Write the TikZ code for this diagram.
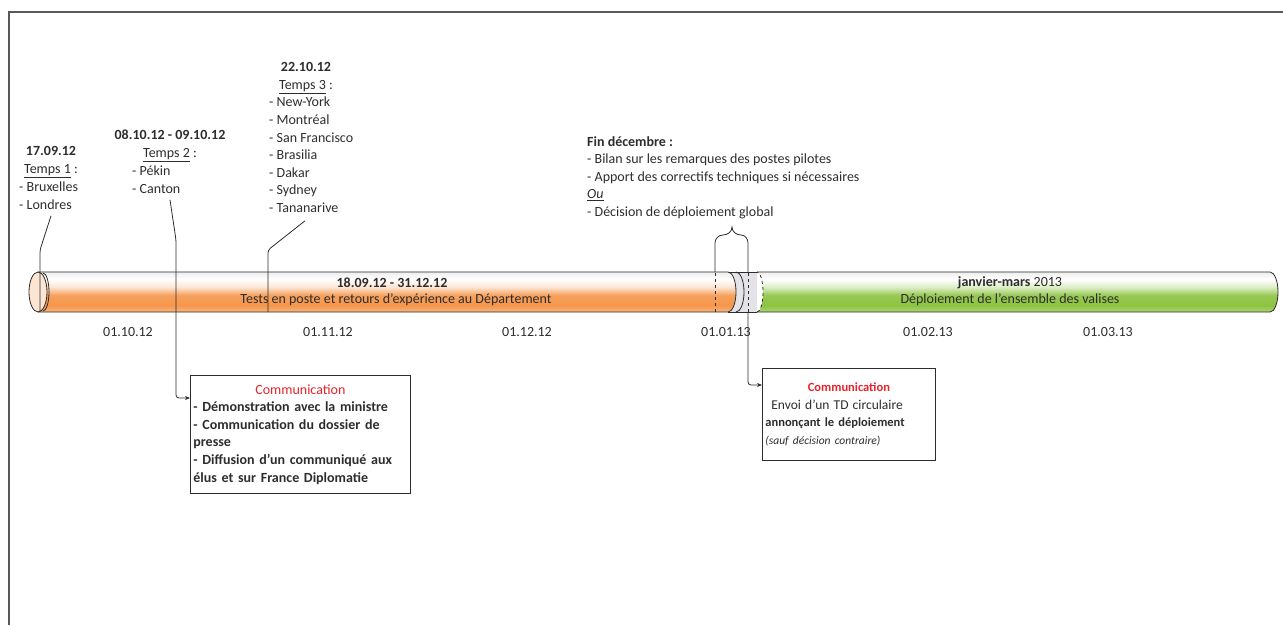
\documentclass[tikz,border=0pt]{standalone}
\usepackage{fontspec}
\setmainfont{Carlito}
\usetikzlibrary{arrows.meta}
\definecolor{tubeorange}{RGB}{245,150,75}
\definecolor{tubegreen}{RGB}{140,195,65}
\definecolor{commred}{RGB}{230,35,45}
\definecolor{inkgray}{RGB}{45,45,45}
\pgfdeclareverticalshading{orangetube}{100bp}{color(0bp)=(tubeorange!70); color(25bp)=(tubeorange!70); color(33bp)=(tubeorange); color(46bp)=(tubeorange!90); color(56bp)=(tubeorange!25); color(66bp)=(white); color(75bp)=(white!93!black); color(100bp)=(white!93!black)}
\pgfdeclareverticalshading{greentube}{100bp}{color(0bp)=(tubegreen!70); color(25bp)=(tubegreen!70); color(33bp)=(tubegreen); color(46bp)=(tubegreen!90); color(56bp)=(tubegreen!30); color(66bp)=(white); color(75bp)=(white!93!black); color(100bp)=(white!93!black)}

\begin{document}
\begin{tikzpicture}[x=1pt,y=1pt,
    every node/.style={font=\fontsize{14}{17.6}\selectfont, text=inkgray, inner sep=0pt},
    head/.style={align=center},
    lbl/.style={align=left, anchor=north west},
    commbox/.style={draw=inkgray, thick, anchor=north west, align=left, inner xsep=3pt},
    link/.style={thick, inkgray, rounded corners=3pt},
    tip/.style={-{Stealth[length=5pt,width=4pt]}},
    tube/.style={thick, inkgray}]
\useasboundingbox (0,0) rectangle (1283,625);
% frame
\draw[line width=1.5pt, black!65] (9,0) -- (9,613) -- (1283,613);

% the two tubes
\fill[blue!8!gray!20] (728,353) rectangle (757,313);
\draw[tube] (728,353) -- (757,353) (728,313) -- (757,313);
\shade[shading=orangetube] (38,353) -- (728,353) arc[start angle=90, end angle=-90, x radius=8, y radius=20] -- (38,313) -- cycle;
\draw[tube] (38,353) -- (728,353) arc[start angle=90, end angle=-90, x radius=8, y radius=20] -- (38,313);
\draw[tube] (736,353) arc[start angle=90, end angle=-90, x radius=8, y radius=20];
\draw[tube, fill=tubeorange!25] (38,333) ellipse[x radius=9, y radius=20];
\draw[tube] (43,352) arc[start angle=90, end angle=-90, x radius=6, y radius=19];
\shade[shading=greentube] (757,353) -- (1270,353) arc[start angle=90, end angle=-90, x radius=8, y radius=20] -- (757,313) arc[start angle=-90, end angle=90, x radius=6, y radius=20] -- cycle;
\draw[tube] (757,353) -- (1270,353) arc[start angle=90, end angle=-90, x radius=8, y radius=20] -- (757,313);
\draw[tube, dashed] (757,313) arc[start angle=-90, end angle=90, x radius=6, y radius=20];

% texts on the tubes
\node (tsdate) at (392,342) {\textbf{18.09.12 - 31.12.12}};
\node (tstext) at (396,325) {Tests en poste et retours d’expérience au Département};
\node (dpdate) at (1010,342) {\textbf{janvier-mars} 2013};
\node (dptext) at (1010,325) {Déploiement de l’ensemble des valises};

% month marks
\node (m1) at (128,293) {01.10.12};
\node (m2) at (328,293) {01.11.12};
\node (m3) at (527,293) {01.12.12};
\node (m4) at (726,293) {01.01.13};
\node (m5) at (928,293) {01.02.13};
\node (m6) at (1108,293) {01.03.13};

% the three waves
\node[head] (t1head) at (51,463) {\textbf{17.09.12}\\\underline{Temps 1} :};
\node[lbl] (t1list) at (19,443) {- Bruxelles\\- Londres};
\node[head] (t2head) at (170,479) {\textbf{08.10.12 - 09.10.12}\\\underline{Temps 2} :};
\node[lbl] (t2list) at (132,459) {- Pékin\\- Canton};
\node[head] (t3head) at (306,547) {\textbf{22.10.12}\\\underline{Temps 3} :};
\node[lbl] (t3list) at (269,528) {- New-York\\- Montréal\\- San Francisco\\- Brasilia\\- Dakar\\- Sydney\\- Tananarive};
\node[lbl] (findec) at (587,489) {\textbf{Fin décembre :}\\- Bilan sur les remarques des postes pilotes\\- Apport des correctifs techniques si nécessaires\\\underline{\textit{Ou}}\\- Décision de déploiement global};

% communication boxes
\node[commbox, text width=214pt, minimum height=118pt] (comm1) at (190,250)
  {\hfill\textcolor{commred}{Communication}\hfill\null\\
   \bfseries - Démonstration avec la ministre\\
   - Communication du dossier de\\presse\\
   - Diffusion d’un communiqué aux\\élus et sur France Diplomatie};
\node[commbox, text width=167pt, minimum height=92pt, font=\fontsize{12.5}{17.5}\selectfont] (comm2) at (762,257)
  {\hfill\textcolor{commred}{\textbf{Communication}}\hfill\null\\
   \hspace*{6pt}{\fontsize{13.5}{17.5}\selectfont Envoi d’un TD circulaire}\\
   \textbf{annonçant le déploiement}\\
   {\fontsize{11.5}{17.5}\selectfont\itshape (sauf décision contraire)}};

% connectors
\coordinate (c1) at (40,313);
\coordinate (c3) at (268,313);
\draw[link] ([xshift=32pt,yshift=-6pt]t1list.south west) -- (40,375) -- (c1);
\draw[link, tip] ([xshift=38pt,yshift=-6pt]t2list.south west) -- (176,385) |- ([yshift=-23pt]comm1.north west);
\draw[link] ([xshift=36pt,yshift=-8pt]t3list.south west) -- (c3 |- 0,375) -- (c3);
\draw[thick, inkgray, dashed] (715,313) -- (715,353) (748,313) -- (748,353);
\draw[thick, inkgray] (715,353) -- (715,382) to[out=90,in=180] (723,390) to[out=0,in=-90] (732,398)
  to[out=-90,in=180] (741,390) to[out=0,in=90] (748,382) -- (748,353);
\draw[link, tip] (748,313) |- ([yshift=-17pt]comm2.north west);
\end{tikzpicture}
\end{document}
